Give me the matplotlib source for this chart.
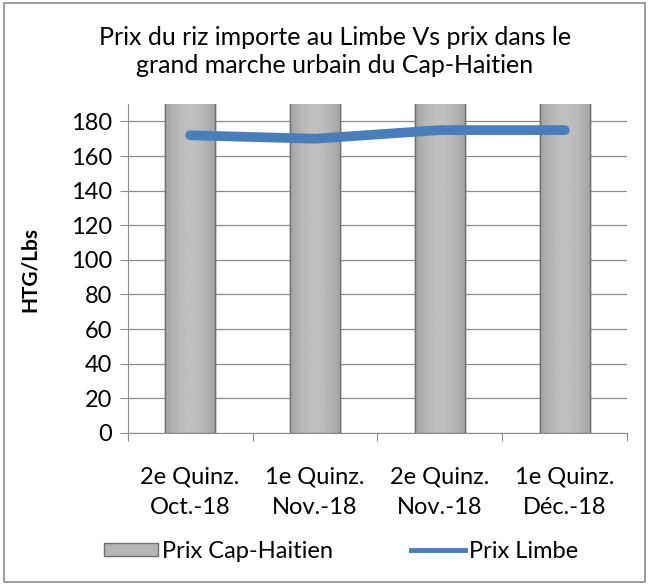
import matplotlib
matplotlib.use('Agg')
import matplotlib.pyplot as plt
import numpy as np
from matplotlib.patches import Rectangle

categories = ["2e Quinz.\nOct.-18", "1e Quinz.\nNov.-18", "2e Quinz.\nNov.-18", "1e Quinz.\nDéc.-18"]
prix_cap = [250, 250, 250, 250]   # bars run past the top of the axis
prix_limbe = [172, 170, 175, 175]
yticks = list(range(0, 181, 20))

plt.rcParams['font.family'] = ['Lato', 'DejaVu Sans']

fig = plt.figure(figsize=(6.48, 5.85), dpi=100)
ax = fig.add_axes([0.197, 0.26, 0.771, 0.562])

x = np.arange(len(categories))
width = 0.4
bars = ax.bar(x, prix_cap, width=width, color='#b0b0b0', edgecolor='#7a7a7a',
              linewidth=1.0, zorder=2, label='Prix Cap-Haitien')

# cylinder-like shading on each bar
grad = np.linspace(0, 1, 64)
shade = 0.55 + 0.2 * np.sin(np.pi * (0.15 + 0.7 * grad))
for b in bars:
    x0, w, h = b.get_x(), b.get_width(), b.get_height()
    ax.imshow(shade[np.newaxis, :], cmap='gray', vmin=0, vmax=1, aspect='auto',
              extent=[x0, x0 + w, 0, h], zorder=2.1)
    ax.add_patch(Rectangle((x0, 0), w, h, fill=False, edgecolor='#707070',
                           linewidth=1.0, zorder=2.2))

ax.plot(x, prix_limbe, color='#4a7ebb', linewidth=7, solid_capstyle='round',
        solid_joinstyle='round', zorder=3, label='Prix Limbe')

ax.set_xlim(-0.5, len(categories) - 0.5)
ax.set_ylim(0, 190)
ax.set_yticks(yticks)
ax.yaxis.grid(True, color='#8c8c8c', linewidth=0.9, zorder=0)
ax.set_axisbelow(True)

ax.set_xticks(np.arange(-0.5, len(categories), 1.0))
ax.set_xticklabels([])
ax.set_xticks(x, minor=True)
ax.set_xticklabels(categories, minor=True, fontsize=17, linespacing=1.6)
ax.tick_params(axis='x', which='major', length=6, color='#8c8c8c', direction='out')
ax.tick_params(axis='x', which='minor', length=0, pad=24)
ax.tick_params(axis='y', length=6, color='#8c8c8c', labelsize=17, pad=5)

for s in ['top', 'right']:
    ax.spines[s].set_visible(False)
for s in ['left', 'bottom']:
    ax.spines[s].set_color('#8c8c8c')

fig.text(30 / 648, 0.54, 'HTG/Lbs', rotation=90, ha='center', va='center',
         fontsize=15, fontweight='bold')

fig.text(0.517, 0.912, 'Prix du riz importe au Limbe Vs prix dans le\ngrand marche urbain du Cap-Haitien',
         ha='center', va='center', fontsize=18, linespacing=1.3)

handles = [Rectangle((0, 0), 1, 1, facecolor='#b5b5b5', edgecolor='#6f6f6f'),
           plt.Line2D([0], [0], color='#4a7ebb', linewidth=3.5)]
fig.legend(handles, ['Prix Cap-Haitien', 'Prix Limbe'], loc='center',
           bbox_to_anchor=(0.526, 0.058), ncol=2, frameon=False, fontsize=17,
           handlelength=2.3, handleheight=0.45, handletextpad=0.15, columnspacing=3.3)

fig.patches.append(Rectangle((0.006, 0.005), 0.99, 0.99, transform=fig.transFigure,
                             fill=False, edgecolor='#8c8c8c', linewidth=1.2))

plt.savefig('out.png', dpi=100)
